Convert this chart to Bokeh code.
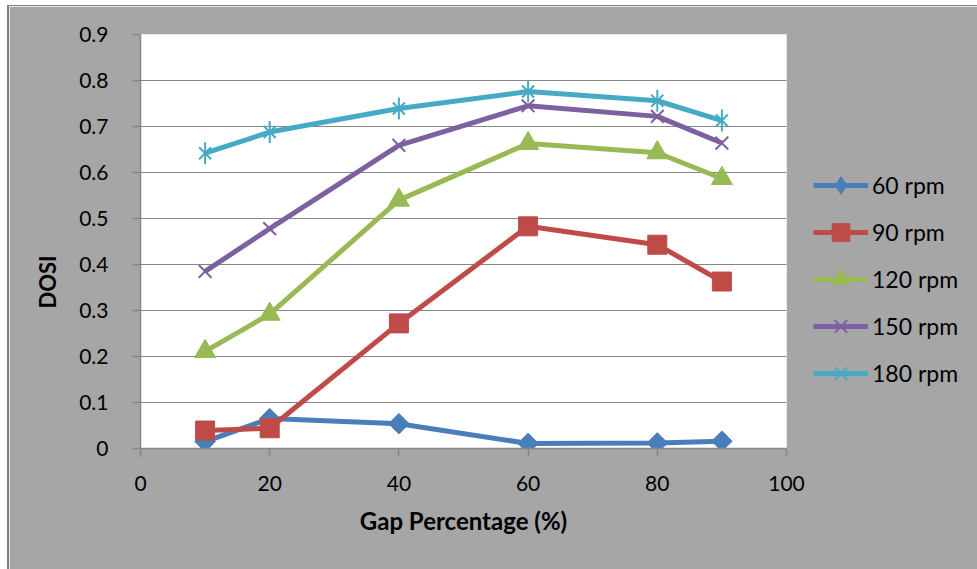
import math
from bokeh.plotting import figure
from bokeh.models import (ColumnDataSource, FixedTicker, Legend, LegendItem, Title)
from bokeh.embed import file_html
from bokeh.resources import INLINE

# ---- data ----
gap = [10, 20, 40, 60, 80, 90]
rpm60 = [0.015, 0.065, 0.054, 0.011, 0.012, 0.016]
rpm90 = [0.039, 0.044, 0.272, 0.483, 0.443, 0.363]
rpm120 = [0.211, 0.292, 0.540, 0.663, 0.643, 0.587]
rpm150 = [0.385, 0.478, 0.659, 0.745, 0.722, 0.664]
rpm180 = [0.642, 0.688, 0.739, 0.776, 0.756, 0.713]
series_names = ["60 rpm", "90 rpm", "120 rpm", "150 rpm", "180 rpm"]
x_ticks = [0, 20, 40, 60, 80, 100]
y_ticks = [0, 0.1, 0.2, 0.3, 0.4, 0.5, 0.6, 0.7, 0.8, 0.9]
x_title = "Gap Percentage (%)"
y_title = "DOSI"

FONT = "Lato"
BG = "#A6A6A6"
GRID = "#868686"
colors = ["#4A7EBB", "#BE4B48", "#98B954", "#7D60A0", "#46AAC5"]

p = figure(frame_width=646, frame_height=414,
           min_border_left=131, min_border_right=191,
           min_border_top=28, min_border_bottom=121,
           x_range=(0, 100), y_range=(0, 0.9),
           output_backend="svg", toolbar_location=None,
           margin=(5, 0, 0, 7),
           styles={"border-left": "2px solid #7F7F7F", "border-top": "1px solid #7F7F7F"})
p.background_fill_color = "white"
p.border_fill_color = BG
p.outline_line_color = None

p.xgrid.grid_line_color = None
p.ygrid.grid_line_color = GRID
p.ygrid.grid_line_width = 1

for ax, ticks in ((p.xaxis[0], x_ticks), (p.yaxis[0], y_ticks)):
    ax.ticker = FixedTicker(ticks=ticks)
    ax.axis_line_color = GRID
    ax.axis_line_width = 1.5
    ax.major_tick_line_color = GRID
    ax.major_tick_line_width = 1.5
    ax.major_tick_out = 8
    ax.major_tick_in = 0
    ax.minor_tick_line_color = None
    ax.major_label_text_font = FONT
    ax.major_label_text_font_size = "21px"
    ax.major_label_text_color = "black"
p.yaxis[0].major_label_overrides = {0: "0"}
p.yaxis[0].major_label_standoff = 24
p.xaxis[0].major_label_standoff = 19

p.xaxis[0].axis_label = x_title
p.xaxis[0].axis_label_text_font = FONT
p.xaxis[0].axis_label_text_font_size = "24px"
p.xaxis[0].axis_label_text_font_style = "bold"
p.xaxis[0].axis_label_text_color = "black"
p.xaxis[0].axis_label_standoff = 12

all_y = [rpm60, rpm90, rpm120, rpm150, rpm180]
items = []
for i, ys in enumerate(all_y):
    src = ColumnDataSource(dict(x=gap, y=ys))
    c = colors[i]
    line_r = p.line("x", "y", source=src, line_color=c, line_width=5)
    rs = [line_r]
    if i == 0:
        p.scatter("x", "y", source=src, marker="square", angle=math.pi / 4,
                  size=14.5, fill_color=c, line_color=c)
        # legend-only diamond (no visible data point)
        dummy = ColumnDataSource(dict(x=[float("nan")], y=[float("nan")]))
        rs.append(p.scatter("x", "y", source=dummy, marker="diamond",
                            fill_color=c, line_color=c))
    elif i == 1:
        rs.append(p.scatter("x", "y", source=src, marker="square", size=19,
                            fill_color=c, line_color=c))
    elif i == 2:
        rs.append(p.scatter("x", "y", source=src, marker="triangle", size=21,
                            fill_color=c, line_color=c))
    elif i == 3:
        rs.append(p.scatter("x", "y", source=src, marker="x", size=18,
                            line_color=c, line_width=2))
    else:
        rs.append(p.scatter("x", "y", source=src, marker="x", size=17,
                            line_color=c, line_width=2))
        rs.append(p.scatter("x", "y", source=src, marker="dash", angle=math.pi / 2,
                            size=22, line_color=c, line_width=2))
    items.append(LegendItem(label=series_names[i], renderers=rs))

legend = Legend(items=items, location=(27, 53),
                glyph_width=55, glyph_height=44, label_height=44,
                spacing=3, padding=0, margin=0, label_standoff=4,
                label_text_font=FONT, label_text_font_size="23px",
                label_text_color="black",
                border_line_color=None, background_fill_alpha=0)
p.add_layout(legend, "right")

p.add_layout(Title(text=y_title, align="left", offset=140, standoff=31,
                   text_font=FONT, text_font_size="22px", text_font_style="bold",
                   text_color="black"), "left")

open("out.html", "w").write(file_html(p, INLINE))
